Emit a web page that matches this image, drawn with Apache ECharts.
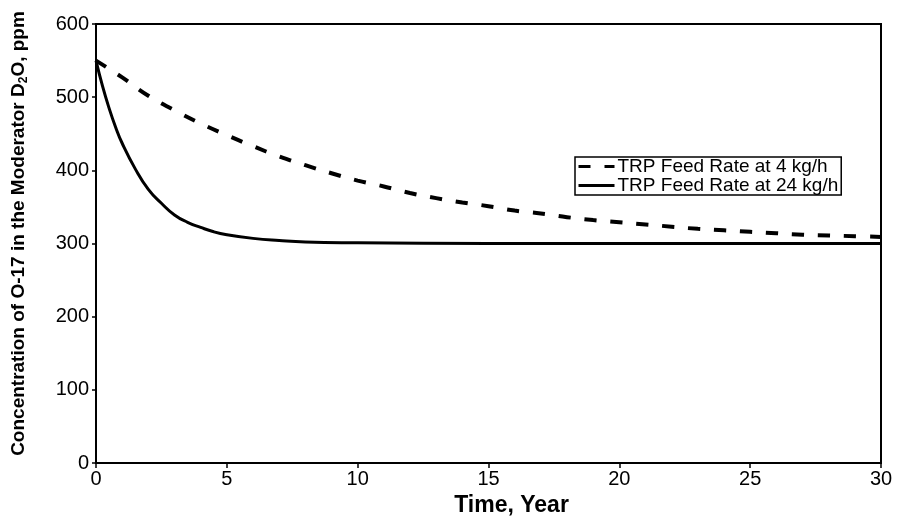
<!DOCTYPE html>
<html>
<head>
<meta charset="utf-8">
<script src="https://cdn.jsdelivr.net/npm/echarts@6/dist/echarts.min.js"></script>
<style>html,body{margin:0;padding:0;background:#fff;}#c{width:897px;height:523px;}</style>
</head>
<body>
<div id="c"></div>
<script>
// Series names
const seriesNames = ['TRP Feed Rate at 4 kg/h', 'TRP Feed Rate at 24 kg/h'];
// 4 kg/h (dashed) — years and concentrations (ppm)
const years4 = [0,1,2,3,4,5,6,7,8,9,10,11,12,13,14,15,16,17,18,19,20,21,22,23,24,25,26,27,28,29,30];
const conc4  = [550,527,502,482,464,448,433,419,407,396,386,378,369,362,356,351,345,341,336,332,329,326,323,320,318,316,314,312,311,310,309];
// 24 kg/h (solid)
const years24 = [0,0.25,0.5,0.75,1,1.5,2,2.5,3,3.5,4,4.5,5,6,7,8,10,15,20,25,30];
const conc24  = [550,515,485,459,437,402,374,355,339,329,322,316,312,307,304,302,301,300,300,300,300];
// Axis ticks
const xTicks = [0,5,10,15,20,25,30];
const yTicks = [0,100,200,300,400,500,600];

const FONT = 'Liberation Sans, Arial, sans-serif';
const chart = echarts.init(document.getElementById('c'), null, {renderer:'canvas'});
chart.setOption({
  animation: false,
  backgroundColor: '#fff',
  grid: {left: 96, right: 16, top: 24, bottom: 60, show: true, borderColor: '#000', borderWidth: 2, backgroundColor: 'transparent'},
  legend: {
    orient: 'vertical', left: 575, top: 157,
    data: seriesNames,
    backgroundColor: '#fff', borderColor: '#000', borderWidth: 1.5, borderRadius: 0,
    padding: [0, 3, 0, 2], itemGap: 0, itemWidth: 36, itemHeight: 14,
    itemStyle: {opacity: 0},
    lineStyle: {width: 3},
    textStyle: {fontFamily: FONT, fontSize: 19, color: '#000', lineHeight: 17, padding: [0,0,0,-2]}
  },
  xAxis: {
    type: 'value', min: xTicks[0], max: xTicks[xTicks.length-1], interval: 5,
    name: 'Time, Year', nameLocation: 'middle', nameGap: 30,
    nameTextStyle: {fontFamily: FONT, fontSize: 23, fontWeight: 'bold', color: '#000', padding: [0,0,0,46]},
    axisLine: {lineStyle: {color: '#000', width: 2}},
    axisTick: {length: 5, lineStyle: {color: '#000', width: 1.5}},
    axisLabel: {fontFamily: FONT, fontSize: 20, color: '#000', margin: 6},
    splitLine: {show: false}
  },
  yAxis: {
    type: 'value', min: yTicks[0], max: yTicks[yTicks.length-1], interval: 100,
    name: '{t|Concentration of O-17 in the Moderator D}{s|2}{t|O, ppm}',
    nameLocation: 'middle', nameGap: 66, nameRotate: 90,
    nameTextStyle: {
      padding: [0,0,0,20],
      rich: {
        t: {fontFamily: FONT, fontSize: 19, fontWeight: 'bold', color: '#000', lineHeight: 22},
        s: {fontFamily: FONT, fontSize: 12, fontWeight: 'bold', color: '#000', verticalAlign: 'bottom', lineHeight: 13}
      }
    },
    axisLine: {lineStyle: {color: '#000', width: 2}},
    axisTick: {length: 4, lineStyle: {color: '#000', width: 1.5}},
    axisLabel: {fontFamily: FONT, fontSize: 20, color: '#000', margin: 7},
    splitLine: {show: false}
  },
  series: [
    {
      name: seriesNames[0], type: 'line', smooth: true, symbol: 'none',
      data: years4.map((x, i) => [x, conc4[i]]),
      lineStyle: {color: '#000', width: 4, type: [12, 14]},
      itemStyle: {color: '#000'}
    },
    {
      name: seriesNames[1], type: 'line', smooth: true, symbol: 'none',
      data: years24.map((x, i) => [x, conc24[i]]),
      lineStyle: {color: '#000', width: 3, type: 'solid'},
      itemStyle: {color: '#000'}
    }
  ]
});
</script>
</body>
</html>
